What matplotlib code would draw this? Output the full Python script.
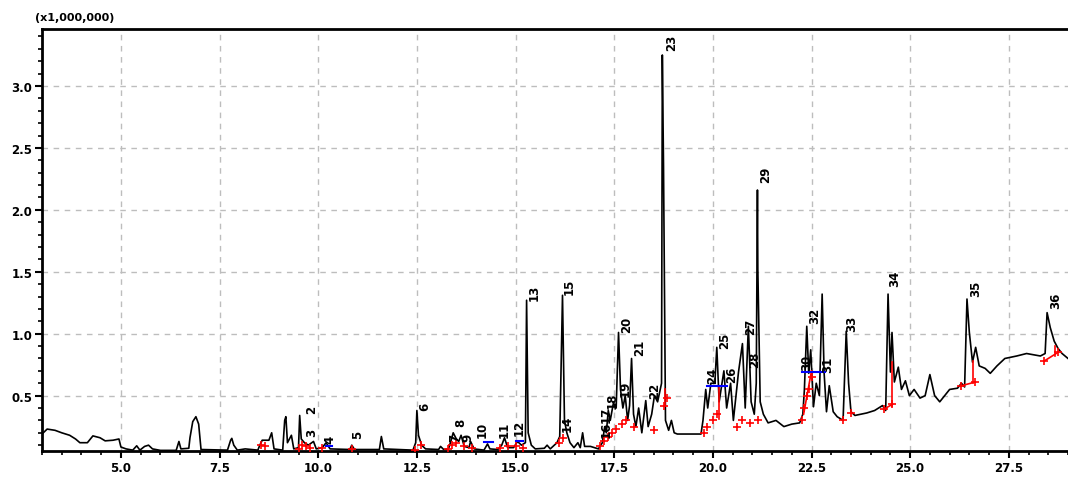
import matplotlib
matplotlib.use("Agg")
import matplotlib.pyplot as plt
from matplotlib.ticker import MultipleLocator, FormatStrFormatter

# ---- data (retention time in min, intensity in x1,000,000) ----
rt_min = [3.00, 3.13, 3.33, 3.50, 3.70, 3.85, 3.96, 4.15, 4.29, 4.47, 4.60, 4.80, 4.95,
          5.00, 5.13, 5.30, 5.40, 5.48, 5.60, 5.70, 5.80, 6.00, 6.40, 6.47, 6.52, 6.72,
          6.75, 6.82, 6.90, 6.97, 7.03, 7.70, 7.78, 7.81, 7.86, 7.95, 8.15, 8.47, 8.52,
          8.58, 8.75, 8.82, 8.88, 9.10, 9.15, 9.18, 9.22, 9.32, 9.38, 9.50, 9.53, 9.57,
          9.65, 9.75, 9.88, 9.95, 10.10, 10.20, 10.30, 10.80, 10.85, 10.92, 11.55, 11.60,
          11.66, 12.40, 12.47, 12.50, 12.54, 12.62, 12.72, 13.05, 13.10, 13.18, 13.30,
          13.36, 13.42, 13.50, 13.56, 13.62, 13.70, 13.82, 13.86, 13.95, 14.20, 14.29,
          14.35, 14.55, 14.65, 14.72, 14.80, 14.95, 15.05, 15.15, 15.25, 15.28, 15.32,
          15.40, 15.50, 15.73, 15.80, 15.88, 16.05, 16.12, 16.19, 16.24, 16.30, 16.38,
          16.48, 16.58, 16.64, 16.70, 16.75, 16.90, 17.10, 17.20, 17.26, 17.30, 17.35,
          17.40, 17.48, 17.55, 17.61, 17.66, 17.72, 17.78, 17.84, 17.89, 17.94, 17.99,
          18.05, 18.12, 18.20, 18.30, 18.36, 18.45, 18.52, 18.60, 18.70, 18.72, 18.75,
          18.80, 18.88, 18.95, 19.02, 19.10, 19.70, 19.75, 19.82, 19.87, 19.95, 20.05,
          20.10, 20.16, 20.28, 20.35, 20.45, 20.52, 20.65, 20.75, 20.82, 20.90, 20.97,
          21.05, 21.10, 21.13, 21.14, 21.20, 21.28, 21.40, 21.60, 21.80, 22.00, 22.20,
          22.28, 22.32, 22.38, 22.43, 22.48, 22.55, 22.62, 22.70, 22.77, 22.82, 22.88,
          22.95, 23.05, 23.15, 23.30, 23.38, 23.44, 23.50, 23.60, 23.90, 24.10, 24.30,
          24.38, 24.44, 24.50, 24.54, 24.60, 24.70, 24.78, 24.88, 24.98, 25.10, 25.25,
          25.38, 25.50, 25.62, 25.75, 26.00, 26.20, 26.30, 26.38, 26.44, 26.50, 26.58,
          26.66, 26.75, 26.90, 27.03, 27.20, 27.40, 27.70, 27.95, 28.30, 28.42, 28.47,
          28.55, 28.65, 28.75, 28.85, 29.00]
signal = [0.19, 0.23, 0.22, 0.20, 0.18, 0.15, 0.12, 0.12, 0.175, 0.16, 0.135, 0.14, 0.15,
          0.085, 0.07, 0.06, 0.095, 0.06, 0.09, 0.10, 0.07, 0.058, 0.058, 0.13, 0.07, 0.075,
          0.16, 0.29, 0.33, 0.27, 0.065, 0.06, 0.14, 0.155, 0.10, 0.06, 0.07, 0.06, 0.10,
          0.14, 0.14, 0.20, 0.07, 0.06, 0.30, 0.33, 0.12, 0.18, 0.07, 0.08, 0.34, 0.15,
          0.12, 0.10, 0.13, 0.07, 0.08, 0.12, 0.07, 0.065, 0.10, 0.065, 0.065, 0.17,
          0.07, 0.06, 0.12, 0.38, 0.18, 0.10, 0.07, 0.065, 0.09, 0.065, 0.07,
          0.13, 0.20, 0.15, 0.13, 0.18, 0.09, 0.08, 0.13, 0.07, 0.06, 0.11,
          0.07, 0.065, 0.10, 0.16, 0.08, 0.08, 0.13, 0.10, 0.12, 1.27, 0.20,
          0.10, 0.07, 0.075, 0.10, 0.07, 0.12, 0.17, 1.31, 0.30, 0.20, 0.12,
          0.08, 0.12, 0.08, 0.20, 0.09, 0.09, 0.07, 0.12, 0.25, 0.20, 0.38,
          0.30, 0.44, 0.40, 1.01, 0.55, 0.40, 0.50, 0.30, 0.42, 0.80, 0.35,
          0.25, 0.40, 0.20, 0.46, 0.25, 0.35, 0.50, 0.45, 0.60, 3.25, 2.35,
          0.30, 0.22, 0.30, 0.20, 0.19, 0.19, 0.30, 0.55, 0.40, 0.60, 0.60,
          0.89, 0.45, 0.70, 0.40, 0.60, 0.30, 0.69, 0.92, 0.40, 1.06, 0.45,
          0.35, 0.60, 2.16, 1.52, 0.45, 0.35, 0.28, 0.30, 0.25, 0.27, 0.28,
          0.35, 0.55, 1.06, 0.68, 0.87, 0.41, 0.60, 0.50, 1.32, 0.68, 0.37,
          0.58, 0.37, 0.33, 0.30, 1.02, 0.60, 0.37, 0.34, 0.36, 0.38, 0.42,
          0.38, 1.32, 0.69, 1.01, 0.61, 0.73, 0.55, 0.62, 0.50, 0.55, 0.48,
          0.50, 0.67, 0.50, 0.45, 0.55, 0.56, 0.60, 0.57, 1.28, 1.01, 0.77,
          0.89, 0.74, 0.72, 0.68, 0.74, 0.80, 0.82, 0.84, 0.82, 0.84, 1.17,
          1.05, 0.94, 0.88, 0.84, 0.80]

# peak labels: number, label time, label height
peak_ids = ["2", "3", "4", "5", "6", "7", "8", "9", "10", "11", "12", "13", "14", "15",
            "16", "17", "18", "19", "20", "21", "22", "23", "24", "25", "26", "27", "28",
            "29", "30", "31", "32", "33", "34", "35", "36"]
peak_rt = [9.84, 9.84, 10.29, 11.0, 12.70, 13.45, 13.60, 13.78, 14.16, 14.72, 15.08, 15.48,
           16.30, 16.37, 17.30, 17.30, 17.45, 17.78, 17.81, 18.14, 18.52, 18.95, 19.99,
           20.29, 20.47, 20.97, 21.05, 21.33, 22.37, 22.90, 22.57, 23.51, 24.60, 26.67,
           28.70]
peak_lbl_y = [0.39, 0.21, 0.15, 0.19, 0.42, 0.17, 0.29, 0.17, 0.23, 0.23, 0.25, 1.34,
              0.28, 1.39, 0.23, 0.35, 0.47, 0.56, 1.08, 0.89, 0.55, 3.36, 0.67,
              0.95, 0.68, 1.06, 0.80, 2.29, 0.77, 0.76, 1.15, 1.09, 1.45, 1.37,
              1.27]

# integration marks (red crosses)
mark_rt = [8.55, 8.65, 9.50, 9.60, 9.70, 9.80, 10.10, 10.85, 12.45, 12.60, 13.30, 13.40,
           13.50, 13.70, 13.90, 14.60, 14.80, 15.00, 15.20, 16.10, 16.20, 17.15, 17.25,
           17.35, 17.45, 17.55, 17.70, 17.80, 18.00, 18.50, 18.75, 18.85, 19.78, 19.85,
           20.00, 20.10, 20.62, 20.75, 20.95, 21.15, 22.25, 22.32, 22.38, 22.43, 22.50,
           23.30, 23.50, 24.33, 24.55, 26.30, 26.65, 28.40, 28.75]
mark_int = [0.10, 0.09, 0.07, 0.10, 0.09, 0.08, 0.08, 0.07, 0.06, 0.10, 0.07, 0.10,
            0.12, 0.09, 0.08, 0.08, 0.09, 0.09, 0.08, 0.12, 0.16, 0.09, 0.13,
            0.17, 0.20, 0.23, 0.27, 0.30, 0.25, 0.22, 0.42, 0.48, 0.20, 0.25,
            0.30, 0.35, 0.25, 0.30, 0.28, 0.30, 0.30, 0.40, 0.50, 0.55, 0.65,
            0.30, 0.36, 0.39, 0.43, 0.58, 0.61, 0.78, 0.85]

# red baselines / drop lines (start time, start int, end time, end int)
red_t0 = [24.33, 24.54, 26.30, 26.58, 28.40, 28.68, 20.16, 18.78, 22.30]
red_i0 = [0.39, 0.42, 0.58, 0.60, 0.78, 0.82, 0.31, 0.42, 0.35]
red_t1 = [24.55, 24.54, 26.65, 26.58, 28.75, 28.68, 20.16, 18.78, 22.50]
red_i1 = [0.43, 0.77, 0.61, 0.78, 0.85, 0.90, 0.58, 0.55, 0.70]

# blue baselines
blue_t0 = [10.20, 14.20, 15.00, 19.85, 22.25]
blue_t1 = [10.35, 14.42, 15.20, 20.35, 22.85]
blue_i = [0.09, 0.125, 0.13, 0.58, 0.69]

x_ticks = [5.0, 7.5, 10.0, 12.5, 15.0, 17.5, 20.0, 22.5, 25.0, 27.5]
y_ticks = [0.5, 1.0, 1.5, 2.0, 2.5, 3.0]

# ---- figure ----
fig = plt.figure(figsize=(10.68, 4.81), dpi=100)
ax = fig.add_axes([42/1068, 29/481, 1026/1068, 422/481])

ax.plot(rt_min, signal, color="black", lw=1.2, zorder=3)
for a, b, c, d in zip(red_t0, red_i0, red_t1, red_i1):
    ax.plot([a, c], [b, d], color="red", lw=1.2, zorder=4)
for a, c, b in zip(blue_t0, blue_t1, blue_i):
    ax.plot([a, c], [b, b], color="blue", lw=1.5, zorder=4)
ax.plot(mark_rt, mark_int, ls="none", marker="+", color="red", ms=6, mew=1.2, zorder=5)

for lab, t, yv in zip(peak_ids, peak_rt, peak_lbl_y):
    ax.text(t, yv, lab, rotation=90, ha="center", va="center", fontsize=8.5,
            fontweight="bold", color="black", zorder=6)

ax.set_xlim(3.0, 29.0)
ax.set_ylim(0.053, 3.46)
ax.set_xticks(x_ticks)
ax.set_yticks(y_ticks)
ax.xaxis.set_minor_locator(MultipleLocator(0.5))
ax.yaxis.set_minor_locator(MultipleLocator(0.1))
ax.xaxis.set_major_formatter(FormatStrFormatter("%.1f"))
ax.yaxis.set_major_formatter(FormatStrFormatter("%.1f"))
ax.tick_params(axis="both", which="major", length=5, width=1.5, labelsize=8.5, pad=2)
ax.tick_params(axis="both", which="minor", length=3, width=1.2)
for lbl in ax.get_xticklabels() + ax.get_yticklabels():
    lbl.set_fontweight("bold")

ax.grid(True, which="major", color="#bdbdbd", linestyle=(0, (4, 4)), lw=1.0, zorder=0)
for s in ["left", "bottom", "top"]:
    ax.spines[s].set_linewidth(2)
ax.spines["right"].set_visible(False)

fig.text(35/1068, 1 - 18/481, "(x1,000,000)", fontsize=8, fontweight="bold",
         ha="left", va="center")

fig.savefig("out.png", dpi=100)
